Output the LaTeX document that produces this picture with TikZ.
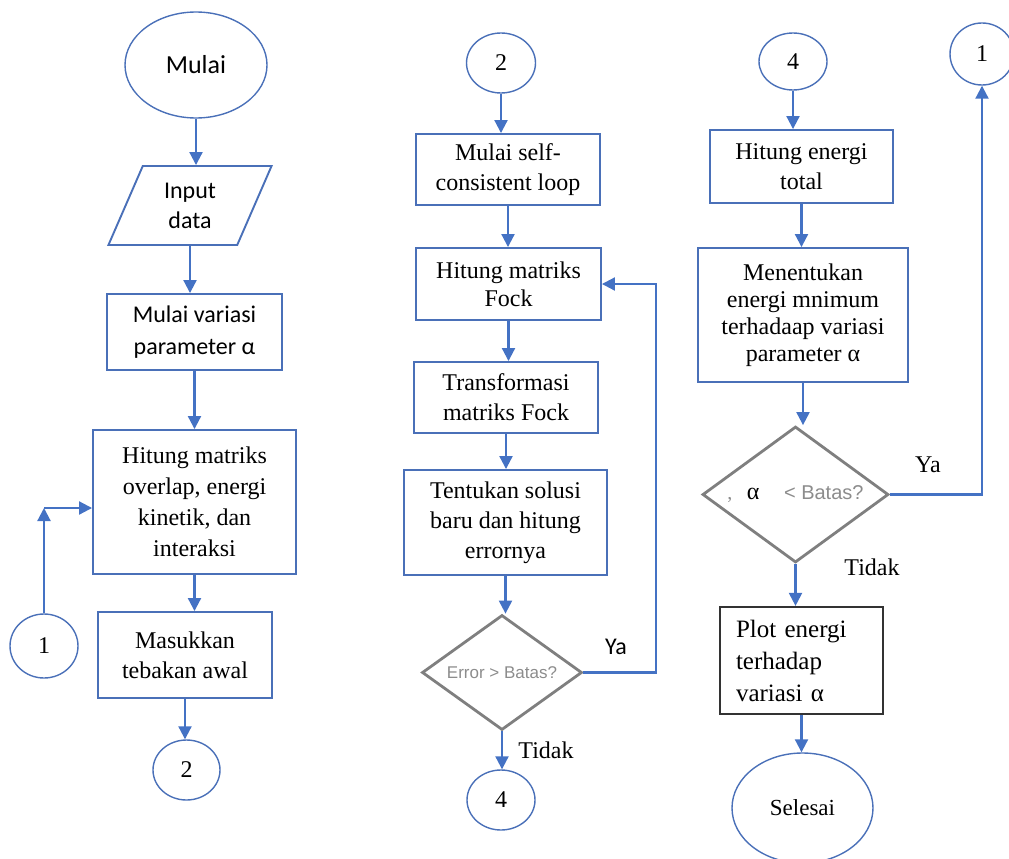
\documentclass[tikz,border=0pt]{standalone}
\usepackage{fontspec}
\setmainfont{Liberation Serif}
\newfontfamily\calibri{Carlito}
\newfontfamily\arial{Liberation Sans}
\usetikzlibrary{shapes.geometric, arrows.meta}
\definecolor{xline}{HTML}{4472C4}
\definecolor{xbox}{HTML}{4A70B8}
\definecolor{xgray}{HTML}{7F7F7F}
\definecolor{xtext}{HTML}{8C8C8C}
\tikzset{
  flowline/.style = {draw=xline, line width=2.1pt, -{Triangle[width=13pt, length=13pt]}},
  terminal/.style = {ellipse, draw=xbox, line width=1.4pt, inner sep=0pt},
  konektor/.style = {ellipse, draw=xbox, line width=1.4pt, inner sep=0pt, font=\fontsize{24}{30}\selectfont},
  proses/.style = {rectangle, draw=xbox, line width=1.9pt, inner sep=0pt, align=center, font=\fontsize{24}{30}\selectfont},
  masukan/.style = {trapezium, trapezium left angle=67.5, trapezium right angle=112.5, trapezium stretches=true, draw=xbox, line width=1.9pt, inner sep=0pt, align=center, font=\calibri\fontsize{24}{30}\selectfont},
  keputusan/.style = {diamond, draw=xgray, line width=2.8pt, inner sep=0pt, aspect=1.37, font=\arial\fontsize{17}{20}\selectfont, text=xtext},
  keterangan/.style = {inner sep=0pt, font=\fontsize{24}{30}\selectfont},
}

\begin{document}
\begin{tikzpicture}[x=1pt, y=-1pt]
\useasboundingbox (0,0) rectangle (1009,859);

\node[terminal, minimum width=142pt, minimum height=106pt, font=\calibri\fontsize{26}{30}\selectfont] (mulai) at (196,65) {Mulai};
\node[masukan, minimum width=164pt, minimum height=79pt] (input) at (190,205.5) {Input\\data};
\node[proses, minimum width=175pt, minimum height=76pt, font=\calibri\fontsize{24}{32}\selectfont] (variasi) at (194.5,332) {Mulai variasi\\parameter α};
\node[proses, minimum width=203pt, minimum height=144pt, font=\fontsize{24}{31}\selectfont] (matriks) at (194.5,502) {Hitung matriks\\overlap, energi\\kinetik, dan\\interaksi};
\node[proses, minimum width=174pt, minimum height=86pt] (tebakan) at (185,655) {Masukkan\\tebakan awal};
\node[konektor, minimum width=67pt, minimum height=60pt] (keluar2) at (186.5,770) {2};
\node[konektor, minimum width=68pt, minimum height=64pt] (masuk1) at (44,646) {1};
\coordinate (siku1) at (44,508);

\node[konektor, minimum width=69pt, minimum height=60pt] (masuk2) at (501,63) {2};
\node[proses, minimum width=184pt, minimum height=71pt] (scf) at (508,169.5) {Mulai self-\\consistent loop};
\node[proses, minimum width=185pt, minimum height=72pt, font=\fontsize{24}{28}\selectfont] (fock) at (508.5,284) {Hitung matriks\\Fock};
\node[proses, minimum width=184pt, minimum height=71pt] (transformasi) at (506,397.5) {Transformasi\\matriks Fock};
\node[proses, minimum width=203pt, minimum height=105pt] (solusi) at (505.5,522.5) {Tentukan solusi\\baru dan hitung\\errornya};
\node[keputusan, minimum width=160pt, minimum height=115pt] (error) at (502,672.5) {Error > Batas?};
\node[konektor, minimum width=68pt, minimum height=60pt] (keluar4) at (501,800) {4};
\node[keterangan, font=\calibri\fontsize{24}{30}\selectfont] (ya1) at (616,647) {Ya};
\node[keterangan] (tidak1) at (546,750) {Tidak};

\node[konektor, minimum width=68pt, minimum height=57pt] (masuk4) at (793,61.5) {4};
\node[proses, minimum width=183pt, minimum height=73pt] (total) at (801.5,166.5) {Hitung energi\\total};
\node[proses, minimum width=210pt, minimum height=134pt, font=\fontsize{24}{27}\selectfont] (minimum) at (803,315) {Menentukan\\energi mnimum\\terhadaap variasi\\parameter α};
\node[keputusan, minimum width=186pt, minimum height=136pt, font=\arial\fontsize{20}{20}\selectfont] (batas) at (795.5,494.5) {{\rmfamily ,}\hspace{14.5pt}{\rmfamily\fontsize{24}{24}\selectfont\color{black}α}\hspace{24.5pt}< Batas?};
\node[proses, draw=black!80, line width=2.2pt, minimum width=163pt, minimum height=107pt, text width=131pt, align=left, font=\fontsize{25}{32}\selectfont] (plot) at (801.5,660.5) {Plot energi\\terhadap\\variasi α};
\node[terminal, minimum width=141pt, minimum height=110pt, font=\fontsize{23}{30}\selectfont] (selesai) at (802.5,808) {Selesai};
\node[konektor, minimum width=64pt, minimum height=62pt] (keluar1) at (982,54) {1};
\node[keterangan] (ya2) at (928,465) {Ya};
\node[keterangan] (tidak2) at (872,567) {Tidak};

\draw[flowline] (mulai.south) -- (mulai.south |- input.north);
\draw[flowline] (input.south) -- (input.south |- variasi.north);
\draw[flowline] (variasi.south) -- (variasi.south |- matriks.north);
\draw[flowline] (matriks.south) -- (matriks.south |- tebakan.north);
\draw[flowline] (tebakan.south) -- (tebakan.south |- keluar2.north);
\draw[flowline] (masuk1.north) -- (siku1);
\draw[flowline] (siku1) -- (siku1 -| matriks.west);

\draw[flowline] (masuk2.south) -- (masuk2.south |- scf.north);
\draw[flowline] (scf.south) -- (scf.south |- fock.north);
\draw[flowline] (fock.south) -- (fock.south |- transformasi.north);
\draw[flowline] (transformasi.south) -- (transformasi.south |- solusi.north);
\draw[flowline] (solusi.south) -- (solusi.south |- error.north);
\draw[flowline] (error.south) -- (error.south |- keluar4.north);
\draw[flowline] (error.east) -- ++(73,0) |- (fock.east);

\draw[flowline] (masuk4.south) -- (masuk4.south |- total.north);
\draw[flowline] (total.south) -- (total.south |- minimum.north);
\draw[flowline] (minimum.south) -- (minimum.south |- batas.north);
\draw[flowline] (batas.east) -| (keluar1.south);
\draw[flowline] (batas.south) -- (batas.south |- plot.north);
\draw[flowline] (plot.south) -- (plot.south |- selesai.north);
\end{tikzpicture}
\end{document}
